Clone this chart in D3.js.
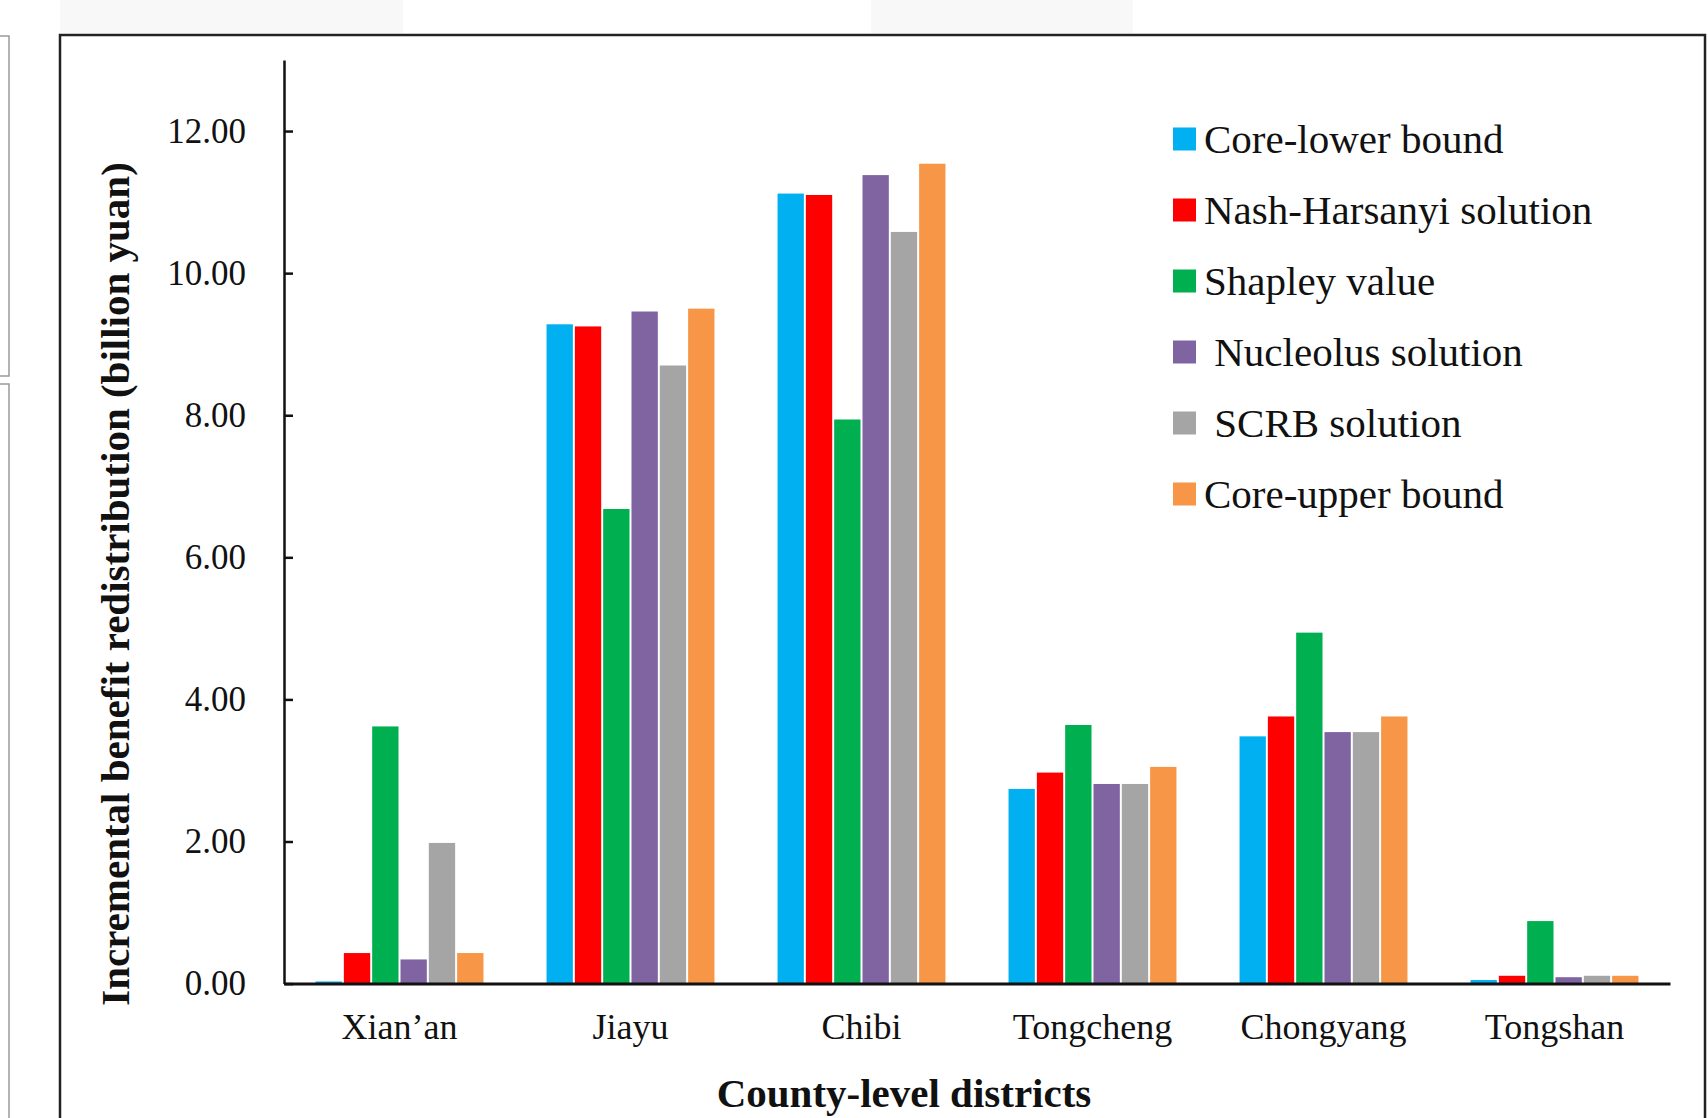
<!DOCTYPE html>
<html>
<head>
<meta charset="utf-8">
<script src="https://cdn.jsdelivr.net/npm/d3@7"></script>
<style>
  body { margin: 0; background: #fff; }
  text { font-family: "Liberation Serif", "Times New Roman", serif; fill: #111; }
</style>
</head>
<body>
<svg id="chart" width="1708" height="1118"></svg>
<script>
// County-level districts and the benefit redistribution (billion yuan) under each allocation method
const districts = ["Xian\u2019an", "Jiayu", "Chibi", "Tongcheng", "Chongyang", "Tongshan"];
const methods = ["Core-lower bound", "Nash-Harsanyi solution", "Shapley value", " Nucleolus solution", " SCRB solution", "Core-upper bound"];
const coreLower    = [0.03, 9.28, 11.12, 2.74, 3.48, 0.05];
const nashHarsanyi = [0.43, 9.25, 11.10, 2.97, 3.76, 0.11];
const shapley      = [3.62, 6.68, 7.94, 3.64, 4.94, 0.88];
const nucleolus    = [0.34, 9.46, 11.38, 2.81, 3.54, 0.09];
const scrb         = [1.98, 8.70, 10.58, 2.81, 3.54, 0.11];
const coreUpper    = [0.43, 9.50, 11.54, 3.05, 3.76, 0.11];
const yTicks = [0, 2, 4, 6, 8, 10, 12];
const colors = ["#00B0F0", "#FF0000", "#00B050", "#8064A2", "#A5A5A5", "#F79646"];

const seriesValues = [coreLower, nashHarsanyi, shapley, nucleolus, scrb, coreUpper];
const rows = [];
districts.forEach((d, i) => {
  methods.forEach((m, j) => rows.push({ district: d, method: m, value: seriesValues[j][i], k: j }));
});

const svg = d3.select("#chart");

// faint strips and neighbouring panel edges around the figure
svg.append("rect").attr("x", 60).attr("y", 0).attr("width", 343).attr("height", 33).attr("fill", "#f8f8f8");
svg.append("rect").attr("x", 871).attr("y", 0).attr("width", 262).attr("height", 33).attr("fill", "#f8f8f8");
svg.append("path")
  .attr("d", "M0,36H9V376H0 M0,384H9V1118")
  .attr("fill", "none").attr("stroke", "#9a9a9a").attr("stroke-width", 1.5);

// outer frame
svg.append("rect")
  .attr("x", 60).attr("y", 35).attr("width", 1645).attr("height", 1120)
  .attr("fill", "#fff").attr("stroke", "#222").attr("stroke-width", 2.5);

const plotLeft = 284, plotRight = 1670, plotTop = 60, plotBottom = 983.6;

const x0 = d3.scaleBand().domain(districts).range([plotLeft, plotRight])
  .paddingInner(0.273).paddingOuter(0.1365);
const x1 = d3.scaleBand().domain(d3.range(methods.length)).range([0, x0.bandwidth()]).paddingInner(0.07);
const y = d3.scaleLinear().domain([0, 13]).range([plotBottom, plotTop]);
const color = d3.scaleOrdinal().domain(d3.range(methods.length)).range(colors);

// bars
svg.append("g").selectAll("rect").data(rows).join("rect")
  .attr("x", d => x0(d.district) + x1(d.k))
  .attr("width", x1.bandwidth())
  .attr("y", d => y(d.value))
  .attr("height", d => y(0) - y(d.value))
  .attr("fill", d => color(d.k));

// y axis with inward ticks
const yAxis = svg.append("g").attr("transform", `translate(${plotLeft},0)`)
  .call(d3.axisLeft(y).tickValues(yTicks).tickFormat(d3.format(".2f"))
    .tickSizeInner(-9).tickSizeOuter(0).tickPadding(38));
yAxis.select(".domain").attr("stroke", "#111").attr("stroke-width", 2.5);
yAxis.selectAll(".tick line").attr("stroke", "#111").attr("stroke-width", 2.5);
yAxis.selectAll(".tick text").style("font-size", "35px").attr("fill", "#222");

// x axis
const xAxis = svg.append("g").attr("transform", `translate(0,${y(0)})`)
  .call(d3.axisBottom(x0).tickSize(0).tickPadding(30));
xAxis.select(".domain").attr("stroke", "#111").attr("stroke-width", 3);
xAxis.selectAll(".tick text").style("font-size", "36px").attr("fill", "#222");

// axis titles
svg.append("text")
  .attr("transform", "translate(129,584) rotate(-90)")
  .attr("text-anchor", "middle")
  .style("font-size", "41px").style("font-weight", "bold")
  .text("Incremental benefit redistribution (billion yuan)");

svg.append("text")
  .attr("x", 904).attr("y", 1107)
  .attr("text-anchor", "middle")
  .style("font-size", "41px").style("font-weight", "bold")
  .text("County-level districts");

// legend
const legend = svg.append("g").selectAll("g").data(methods).join("g")
  .attr("transform", (d, i) => `translate(1173,${139 + i * 71})`);
legend.append("rect")
  .attr("x", 0).attr("y", -11.5).attr("width", 23).attr("height", 23)
  .attr("fill", (d, i) => color(i));
legend.append("text")
  .attr("x", 31).attr("dy", "0.34em")
  .style("font-size", "41px").style("white-space", "pre")
  .text(d => d);
</script>
</body>
</html>
